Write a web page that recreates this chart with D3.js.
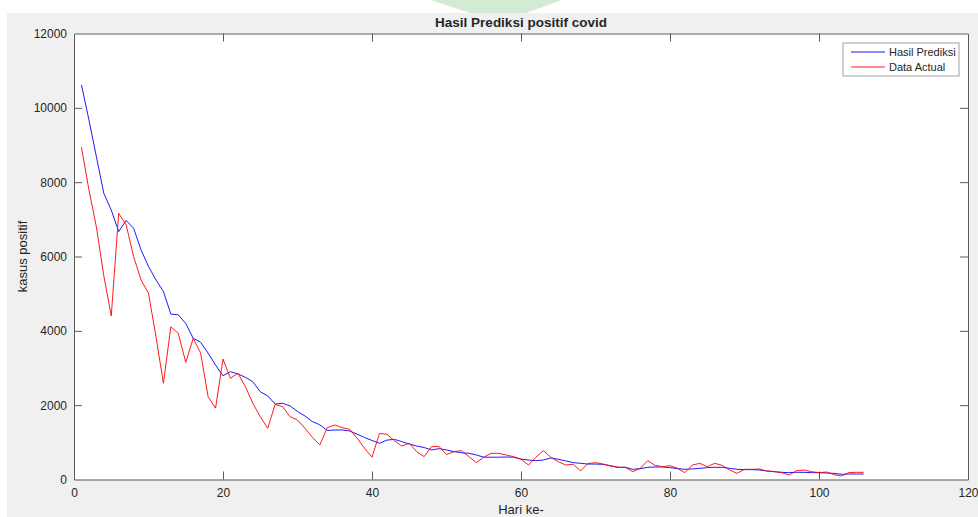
<!DOCTYPE html>
<html>
<head>
<meta charset="utf-8">
<script src="https://cdn.jsdelivr.net/npm/d3@7"></script>
<style>
  body { margin: 0; background: #fff; }
  svg text { font-family: "Liberation Sans", Arial, sans-serif; fill: #262626; }
</style>
</head>
<body>
<div id="chart"></div>
<script>
const width = 978;
const height = 517;

// hari ke-1 .. ke-106
var prediksi = [10620, 9680, 8690, 7700, 7250, 6670, 6970, 6760, 6180, 5730,
  5370, 5060, 4450, 4430, 4200, 3800, 3690, 3400, 3080, 2790,
  2900, 2840, 2750, 2630, 2360, 2250, 2030, 2050, 1980, 1830,
  1710, 1560, 1470, 1320, 1330, 1333, 1306, 1220, 1130, 1050,
  975, 1060, 1080, 1020, 955, 900, 860, 795, 830, 795,
  750, 720, 705, 660, 600, 600, 600, 605, 600, 550,
  525, 505, 525, 580, 545, 500, 455, 435, 415, 415,
  408, 372, 328, 328, 274, 292, 328, 337, 337, 319,
  292, 274, 283, 301, 319, 328, 328, 301, 274, 265,
  265, 256, 229, 211, 193, 184, 193, 193, 184, 184,
  175, 166, 139, 148, 148, 148];

var aktual = [8940, 7800, 6800, 5480, 4400, 7160, 6850, 6000, 5370, 5010,
  3850, 2590, 4110, 3930, 3150, 3800, 3400, 2230, 1920, 3240,
  2720, 2860, 2500, 2050, 1690, 1380, 2020, 1960, 1690, 1600,
  1380, 1135, 930, 1395, 1467, 1395, 1350, 1110, 840, 600,
  1240, 1215, 1045, 900, 975, 750, 615, 885, 885, 670,
  750, 775, 615, 455, 600, 705, 705, 660, 615, 545,
  390, 600, 775, 600, 480, 390, 410, 235, 430, 453,
  417, 363, 328, 328, 211, 301, 507, 381, 345, 372,
  301, 184, 390, 435, 345, 435, 381, 256, 166, 274,
  274, 283, 229, 211, 184, 121, 238, 256, 211, 184,
  202, 130, 94, 184, 193, 193];

var xTicks = [0, 20, 40, 60, 80, 100, 120];
var yTicks = [0, 2000, 4000, 6000, 8000, 10000, 12000];
var seriesNames = ["Hasil Prediksi", "Data Actual"];
var seriesColors = ["#0000ff", "#ff0000"];

var m = {left: 74, right: 968, top: 33.5, bottom: 479.5};

var svg = d3.select("#chart").append("svg")
  .attr("width", width)
  .attr("height", height);

// figure background (MATLAB grey) and the faint watermark at the top
svg.append("rect").attr("x", 7).attr("y", 13).attr("width", width - 7).attr("height", height - 13)
  .attr("fill", "#f0f0f0");
svg.append("path").attr("d", "M431,0 L562,0 L526,13 L470,13 Z").attr("fill", "#d3ead5");

var x = d3.scaleLinear().domain([0, 120]).range([m.left, m.right]);
var y = d3.scaleLinear().domain([0, 12000]).range([m.bottom, m.top]);

svg.append("rect")
  .attr("x", m.left).attr("y", m.top)
  .attr("width", m.right - m.left).attr("height", m.bottom - m.top)
  .attr("fill", "#fff");

var tickLen = 8;
var axisColor = "#5a5a5a";
var fmt = d3.format("d");

var gBottom = svg.append("g").attr("transform", "translate(0," + m.bottom + ")")
  .call(d3.axisBottom(x).tickValues(xTicks).tickFormat(fmt).tickSizeInner(-tickLen).tickSizeOuter(0).tickPadding(9));
var gLeft = svg.append("g").attr("transform", "translate(" + m.left + ",0)")
  .call(d3.axisLeft(y).tickValues(yTicks).tickFormat(fmt).tickSizeInner(-tickLen).tickSizeOuter(0).tickPadding(7));
var gTop = svg.append("g").attr("transform", "translate(0," + m.top + ")")
  .call(d3.axisTop(x).tickValues(xTicks).tickSizeInner(-tickLen).tickSizeOuter(0).tickFormat(""));
var gRight = svg.append("g").attr("transform", "translate(" + m.right + ",0)")
  .call(d3.axisRight(y).tickValues(yTicks).tickSizeInner(-tickLen).tickSizeOuter(0).tickFormat(""));

[gBottom, gLeft, gTop, gRight].forEach(function(g) {
  g.select(".domain").attr("stroke", axisColor);
  g.selectAll(".tick line").attr("stroke", axisColor);
  g.selectAll(".tick text").style("font-size", "12px").attr("fill", "#262626");
});
// no inner ticks at the corners
gBottom.selectAll(".tick").filter(d => d == 0 || d == 120).select("line").remove();
gTop.selectAll(".tick").filter(d => d == 0 || d == 120).select("line").remove();
gLeft.selectAll(".tick").filter(d => d == 0 || d == 12000).select("line").remove();
gRight.selectAll(".tick").filter(d => d == 0 || d == 12000).select("line").remove();

var line = d3.line()
  .x((d, i) => x(i + 1))
  .y(d => y(d));

[prediksi, aktual].forEach(function(s, k) {
  svg.append("path")
    .datum(s)
    .attr("fill", "none")
    .attr("stroke", seriesColors[k])
    .attr("stroke-width", 0.9)
    .attr("d", line);
});

// titles
svg.append("text").attr("x", (m.left + m.right) / 2).attr("y", 27)
  .attr("text-anchor", "middle").style("font-size", "13.5px").style("font-weight", "bold")
  .text("Hasil Prediksi positif covid");
svg.append("text").attr("x", (m.left + m.right) / 2).attr("y", 514)
  .attr("text-anchor", "middle").style("font-size", "13px")
  .text("Hari ke-");
svg.append("text").attr("transform", "translate(27," + (m.top + m.bottom) / 2 + ") rotate(-90)")
  .attr("text-anchor", "middle").style("font-size", "13px")
  .text("kasus positif");

// legend
var legend = svg.append("g").attr("transform", "translate(843,43)");
legend.append("rect").attr("width", 116).attr("height", 33)
  .attr("fill", "#fff").attr("stroke", "#8a8a8a").attr("stroke-width", 0.8);
seriesNames.forEach(function(name, k) {
  var ly = 9 + k * 15;
  legend.append("line").attr("x1", 8).attr("x2", 42).attr("y1", ly).attr("y2", ly)
    .attr("stroke", seriesColors[k]).attr("stroke-width", 0.9);
  legend.append("text").attr("x", 46).attr("y", ly + 4)
    .style("font-size", "11px").text(name);
});
</script>
</body>
</html>
